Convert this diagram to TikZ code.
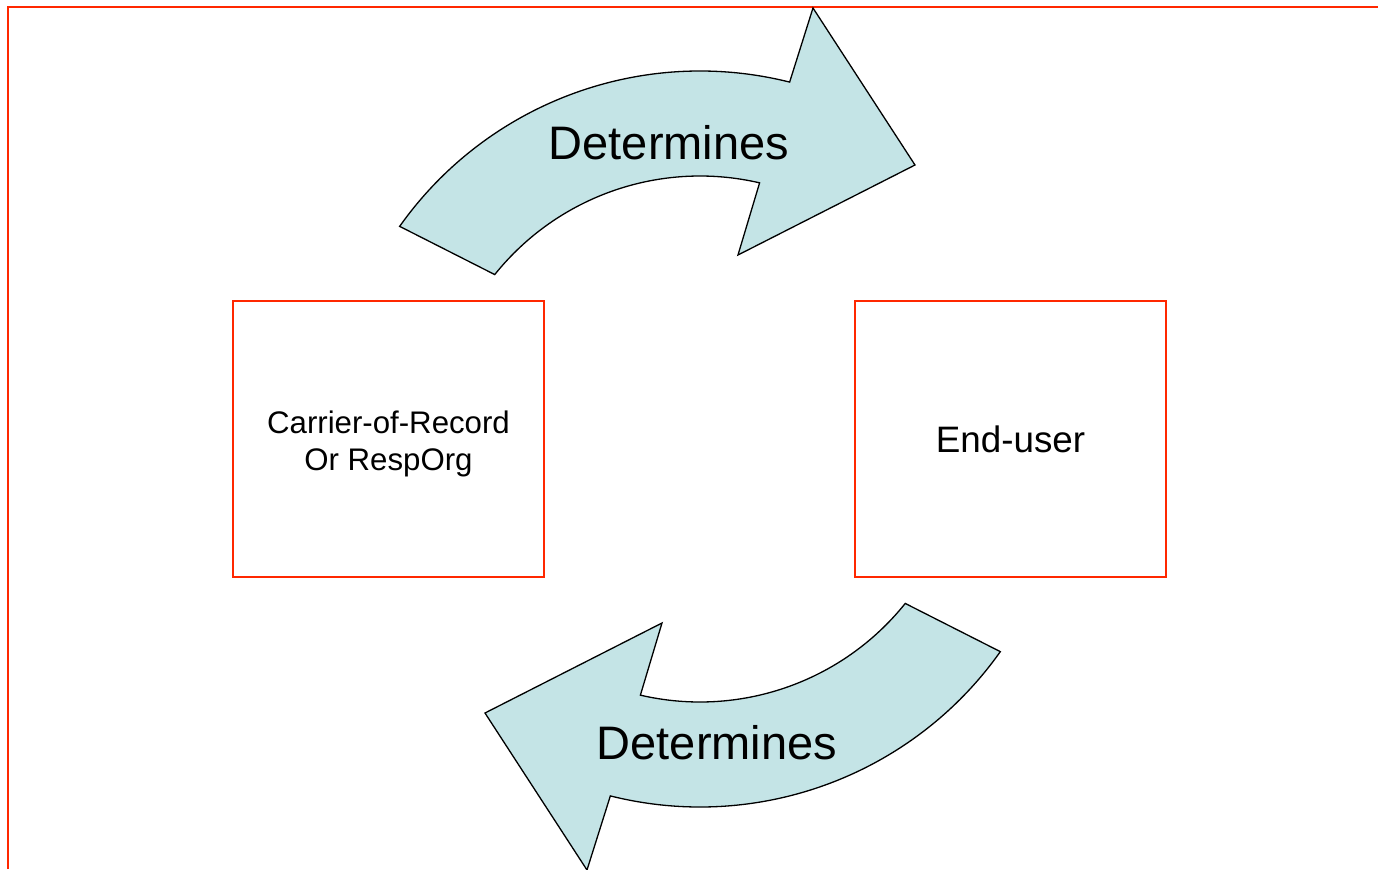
\documentclass[tikz,border=0pt]{standalone}
\usepackage{fontspec}
\setmainfont{Liberation Sans}
\usepackage{tikz}
\usetikzlibrary{calc}
\definecolor{framered}{RGB}{255,40,0}
\definecolor{arrowblue}{RGB}{196,228,230}
\tikzset{
  roundarrow/.style={draw=black, line width=0.65pt, fill=arrowblue, line join=miter},
  partybox/.style={draw=framered, line width=0.8pt, minimum width=155.5pt, minimum height=138pt, align=center, inner sep=0pt},
}
\def\curvedarrow[#1]{\draw[#1] (144.7:368) arc[start angle=144.7, end angle=75.9, radius=368] -- (113,431) -- (215,274) -- (38,184) -- (76.9:263) arc[start angle=76.9, end angle=141.3, radius=263] -- cycle;}

\begin{document}
\begin{tikzpicture}[x=0.5pt, y=0.5pt]
			%%%%% START %%%%%
			
			\useasboundingbox (-700, -430) rectangle (678, 439);
			
			\draw[framered, line width=1.3pt] (-692, -430) -- (-692, 432) -- (678, 432);
			
			\curvedarrow[roundarrow];
			\begin{scope}[rotate=180]
			\curvedarrow[roundarrow];
			\end{scope}
			
			\node (detTop) at (-31, 296) {\fontsize{23.5}{28}\selectfont Determines};
			\node (detBottom) at (17, -304) {\fontsize{23.5}{28}\selectfont Determines};
			
			\node[partybox] (cor) at (-311.5, 0) {};
			\node[align=center, font=\fontsize{15.6}{18.7}\selectfont] (corText) at ([yshift=-2.5pt]cor.center) {Carrier-of-Record\\Or RespOrg};
			\node[partybox, font=\fontsize{18.4}{22}\selectfont] (enduser) at (310.5, 0) {End-user};
			
			%%%%% END %%%%%
\end{tikzpicture}
\end{document}
